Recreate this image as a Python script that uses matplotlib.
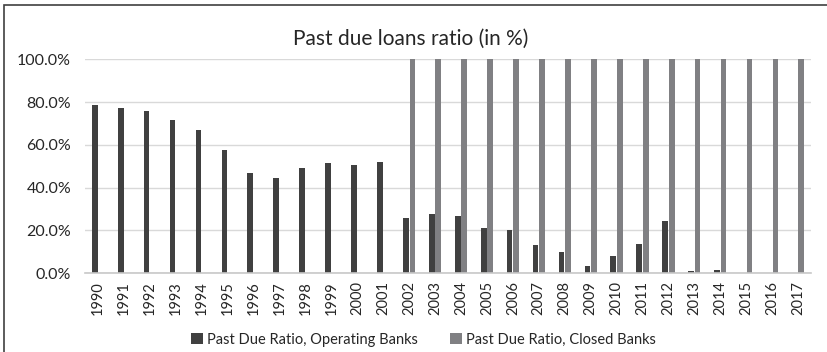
import numpy as np
import matplotlib
matplotlib.use("Agg")
import matplotlib.pyplot as plt
from matplotlib.patches import Rectangle

years = [str(y) for y in range(1990, 2018)]
operating = [78.6, 77.2, 75.9, 71.7, 67.0, 57.5, 46.7, 44.7, 49.4, 51.4,
             50.8, 52.2, 25.6, 27.5, 26.6, 20.9, 20.2, 13.1, 10.0, 3.1,
             8.0, 13.7, 24.5, 1.1, 1.6, 0.0, 0.0, 0.0]
closed = [0.0] * 12 + [100.0] * 16

plt.rcParams["font.family"] = ["Lato", "DejaVu Sans"]

fig = plt.figure(figsize=(8.27, 3.52), dpi=100)
ax = fig.add_axes([0.1028, 0.2244, 0.8779, 0.6066])

x = np.arange(len(years))
w = 0.22
ax.bar(x - 0.125, operating, width=w, color="#404040", zorder=2,
       label="Past Due Ratio, Operating Banks")
ax.bar(x + 0.125, closed, width=w, color="#808083", zorder=2,
       label="Past Due Ratio, Closed Banks")

ax.set_xlim(-0.5, len(years) - 0.5)
ax.set_ylim(0, 100)
ax.set_yticks(np.arange(0, 101, 20))
ax.set_yticklabels([f"{v:.1f}%" for v in range(0, 101, 20)], fontsize=11.5, color="#262626")
ax.set_xticks(x)
ax.set_xticklabels(years, rotation=90, fontsize=10.5, color="#262626")
ax.tick_params(length=0, pad=6)
ax.tick_params(axis="y", pad=10)

ax.yaxis.grid(True, color="#d9d9d9", linewidth=1.0, zorder=0)
ax.set_axisbelow(True)
for side in ("top", "right", "left"):
    ax.spines[side].set_visible(False)
ax.spines["bottom"].set_color("#c8c8c8")
ax.spines["bottom"].set_linewidth(1.2)

fig.text(0.496, 0.89, "Past due loans ratio (in %)", ha="center", va="center",
         fontsize=15, color="#262626")

fig.legend(loc="center", bbox_to_anchor=(0.512, 0.035), ncol=2, frameon=False,
           fontsize=10.5, handlelength=0.8, handleheight=0.8, handletextpad=0.3,
           columnspacing=2.2, labelcolor="#262626")

# outer chart frame
fig.patches.append(Rectangle((0.005, -0.1), 1.2, 1.086, transform=fig.transFigure,
                             fill=False, edgecolor="#404040", linewidth=1.2))

fig.savefig("out.png", dpi=100)
